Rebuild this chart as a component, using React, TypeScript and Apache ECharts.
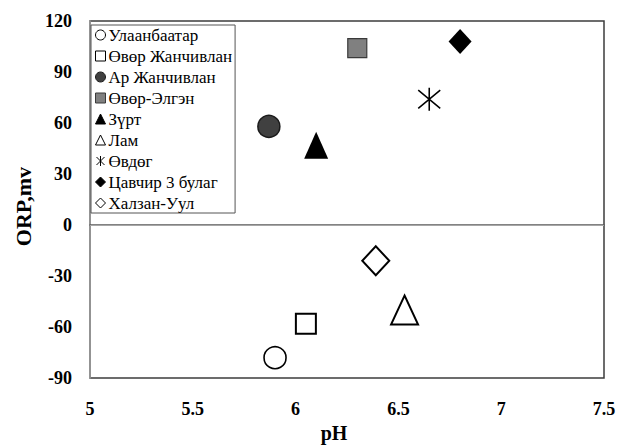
import React, { useEffect, useRef } from "react";
import * as echarts from "echarts";

// Sampling sites and their measured pH / ORP (mV)
const sites = [
  "Улаанбаатар",
  "Өвөр Жанчивлан",
  "Ар Жанчивлан",
  "Өвөр-Элгэн",
  "Зүрт",
  "Лам",
  "Өвдөг",
  "Цавчир 3 булаг",
  "Халзан-Уул",
];
const phValues = [5.9, 6.05, 5.87, 6.3, 6.1, 6.53, 6.65, 6.8, 6.39];
const orpValues = [-78, -58, 58, 104, 47, -50, 74, 108, -21];

const xTicks = { min: 5, max: 7.5, interval: 0.5 };
const yTicks = { min: -90, max: 120, interval: 30 };

const ASTERISK = "path://M0,-10L0,10M-8,-8L8,8M-8,8L8,-8";

type MarkStyle = {
  symbol: string;
  size: number | number[];
  fill: string;
  stroke: string;
  strokeWidth: number;
};

const markStyles: MarkStyle[] = [
  { symbol: "circle", size: 22, fill: "#ffffff", stroke: "#000000", strokeWidth: 1.6 },
  { symbol: "rect", size: 20, fill: "#ffffff", stroke: "#000000", strokeWidth: 2 },
  { symbol: "circle", size: 22, fill: "#404040", stroke: "#1a1a1a", strokeWidth: 1.5 },
  { symbol: "rect", size: 19, fill: "#808080", stroke: "#3a3a3a", strokeWidth: 1.2 },
  { symbol: "triangle", size: [24, 27], fill: "#000000", stroke: "#000000", strokeWidth: 0 },
  { symbol: "triangle", size: [27, 29], fill: "#ffffff", stroke: "#000000", strokeWidth: 2 },
  { symbol: ASTERISK, size: [22, 23], fill: "#000000", stroke: "#000000", strokeWidth: 1.6 },
  { symbol: "diamond", size: [23, 25], fill: "#000000", stroke: "#000000", strokeWidth: 0 },
  { symbol: "diamond", size: [27, 29], fill: "#ffffff", stroke: "#000000", strokeWidth: 2 },
];

const SERIF = "Liberation Serif";

export default function App() {
  const ref = useRef<HTMLDivElement>(null);

  useEffect(() => {
    if (!ref.current) return;
    const chart = echarts.init(ref.current, undefined, { renderer: "svg" });

    const series: any[] = sites.map((name, i) => {
      const m = markStyles[i];
      const s: any = {
        name,
        type: "scatter",
        symbol: m.symbol,
        symbolSize: m.size,
        data: [[phValues[i], orpValues[i]]],
        itemStyle: {
          color: m.fill,
          borderColor: m.stroke,
          borderWidth: m.strokeWidth,
          opacity: 1,
        },
        z: 5,
      };
      if (i === 0) {
        // zero reference line
        s.markLine = {
          silent: true,
          symbol: "none",
          label: { show: false },
          lineStyle: { color: "#a6a6a6", width: 1, type: "solid" },
          data: [{ yAxis: 0 }],
          z: 1,
        };
      }
      return s;
    });

    chart.setOption({
      animation: false,
      backgroundColor: "#ffffff",
      textStyle: { fontFamily: SERIF },
      grid: {
        left: 90,
        right: 23,
        top: 21,
        bottom: 63,
        show: true,
        borderColor: "#3c3c3c",
        borderWidth: 1.5,
        backgroundColor: "transparent",
      },
      legend: {
        orient: "vertical",
        left: 91,
        top: 25,
        padding: [1, 3, 1, 4],
        itemWidth: 10,
        itemHeight: 10,
        itemGap: 3,
        backgroundColor: "#ffffff",
        borderColor: "#555555",
        borderWidth: 1,
        borderRadius: 0,
        itemStyle: { borderWidth: 1 },
        textStyle: {
          fontFamily: SERIF,
          fontSize: 17,
          color: "#000000",
          lineHeight: 18,
          padding: [0, 0, 0, -2],
        },
        data: sites,
      },
      xAxis: {
        type: "value",
        min: xTicks.min,
        max: xTicks.max,
        interval: xTicks.interval,
        name: "pH",
        nameLocation: "middle",
        nameGap: 43,
        nameTextStyle: {
          fontFamily: SERIF,
          fontSize: 20,
          fontWeight: "bold",
          color: "#000000",
          padding: [0, 26, 0, 0],
        },
        axisLine: { show: true, lineStyle: { color: "#5a5a5a", width: 1.5 } },
        axisTick: { show: false },
        splitLine: { show: false },
        axisLabel: {
          margin: 22,
          fontFamily: SERIF,
          fontSize: 18,
          fontWeight: "bold",
          color: "#000000",
        },
      },
      yAxis: {
        type: "value",
        min: yTicks.min,
        max: yTicks.max,
        interval: yTicks.interval,
        name: "ORP,mv",
        nameLocation: "middle",
        nameRotate: 90,
        nameGap: 55,
        nameTextStyle: {
          fontFamily: SERIF,
          fontSize: 22,
          fontWeight: "bold",
          color: "#000000",
          padding: [0, 14, 0, 0],
        },
        axisLine: { show: true, lineStyle: { color: "#a0a0a0", width: 1.5 } },
        axisTick: { show: false },
        splitLine: { show: false },
        axisLabel: {
          margin: 18,
          fontFamily: SERIF,
          fontSize: 18,
          fontWeight: "bold",
          color: "#000000",
        },
      },
      series,
    });

    return () => chart.dispose();
  }, []);

  return <div ref={ref} style={{ width: 627, height: 448, position: "absolute", left: 0, top: 0 }} />;
}
